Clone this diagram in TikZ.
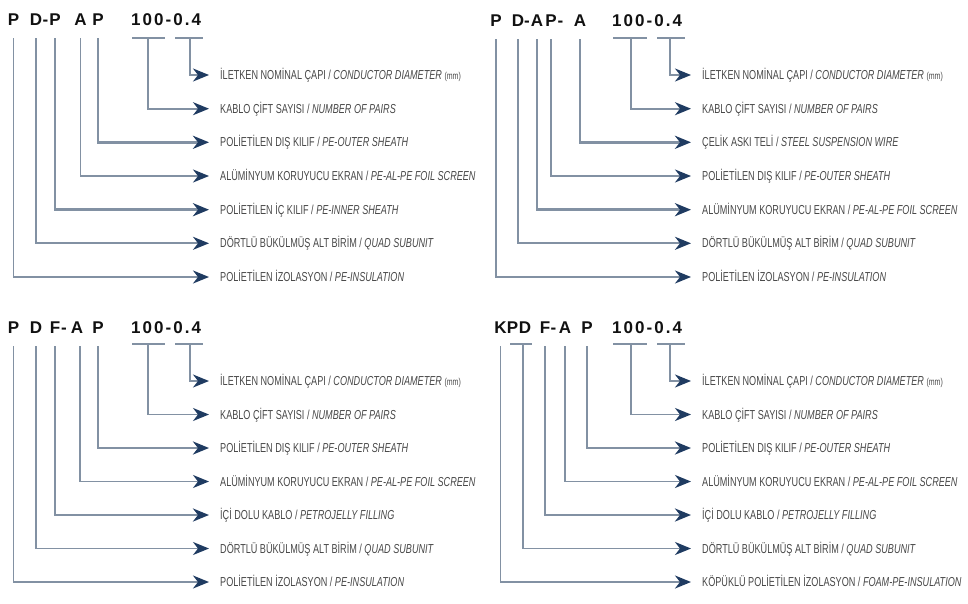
\documentclass[tikz,border=0pt]{standalone}
\usepackage{fontspec}
\setmainfont{Liberation Sans}
\newfontfamily\lblfont[FakeStretch=0.7]{Liberation Sans}
\newfontfamily\codefont{Liberation Sans}
\newfontfamily\numfont[LetterSpace=12]{Liberation Sans}
\usetikzlibrary{arrows.meta}

\definecolor{wire}{HTML}{8291A3}
\definecolor{tipblue}{HTML}{1F3B61}
\definecolor{lbltext}{HTML}{484848}
\definecolor{codetext}{HTML}{111111}

\tikzset{
  code/.style={anchor=base, inner sep=0pt, text=codetext,
    font=\codefont\bfseries\fontsize{17}{17}\selectfont},
  num/.style={anchor=base west, inner sep=0pt, text=codetext,
    font=\numfont\bfseries\fontsize{17}{17}\selectfont},
  lbl/.style={anchor=west, inner sep=0pt, text height=9pt, text depth=0pt,
    text=lbltext, font=\lblfont\fontsize{13}{13}\selectfont},
  wire/.style={draw=wire, line width=1.8pt, shorten <=13pt, shorten >=11pt,
    -{Stealth[length=16pt, width=13pt, inset=5pt, color=tipblue]}},
  fromline/.style={shorten <=0pt},
  heavy/.style={line width=2.7pt},
  uline/.style={draw=wire, line width=1.5pt},
}
\newcommand{\en}[1]{\textit{#1}}
\newcommand{\mm}{{\fontsize{10}{10}\selectfont(mm)}}

\begin{document}
\begin{tikzpicture}[x=1pt,y=-1pt]
\useasboundingbox (0,0) rectangle (968,603);
\fill[white] (0,0) rectangle (968,603);

% ================= P D-P A P 100-0.4 =================
\node[code] (aP1) at (13.5,25) {P};
\node[code] (aD)  at (36,25)   {D};
\node[code] (aH)  at (45.5,25) {-};
\node[code] (aP2) at (55,25)   {P};
\node[code] (aA)  at (80.5,25) {A};
\node[code] (aP3) at (98,25)   {P};
\node[num]  (aN)  at (131,25)  {100-0.4};
\coordinate (aU1a) at (132,38);  \coordinate (aU1b) at (165,38);  \coordinate (aU1) at (148,38);
\coordinate (aU2a) at (175,38);  \coordinate (aU2b) at (203,38);  \coordinate (aU2) at (190,38);
\draw[uline] (aU1a) -- (aU1b);
\draw[uline] (aU2a) -- (aU2b);

\node[lbl] (a1) at (220,75)    {İLETKEN NOMİNAL ÇAPI / \en{CONDUCTOR DIAMETER} \mm};
\node[lbl] (a2) at (220,108.7) {KABLO ÇİFT SAYISI / \en{NUMBER OF PAIRS}};
\node[lbl] (a3) at (220,142.3) {POLİETİLEN DIŞ KILIF / \en{PE-OUTER SHEATH}};
\node[lbl] (a4) at (220,176)   {ALÜMİNYUM KORUYUCU EKRAN / \en{PE-AL-PE FOIL SCREEN}};
\node[lbl] (a5) at (220,209.7) {POLİETİLEN İÇ KILIF / \en{PE-INNER SHEATH}};
\node[lbl] (a6) at (220,243.3) {DÖRTLÜ BÜKÜLMÜŞ ALT BİRİM / \en{QUAD SUBUNIT}};
\node[lbl] (a7) at (220,277)   {POLİETİLEN İZOLASYON / \en{PE-INSULATION}};

\draw[wire, fromline] (aU2) |- (a1.west);
\draw[wire, fromline] (aU1) |- (a2.west);
\draw[wire, heavy] (aP3.base) |- (a3.west);
\draw[wire] (aA.base)  |- (a4.west);
\draw[wire, heavy] (aP2.base) |- (a5.west);
\draw[wire] (aD.base)  |- (a6.west);
\draw[wire] (aP1.base) |- (a7.west);

% ================= P D-AP- A 100-0.4 =================
\node[code] (bP1) at (496,26)   {P};
\node[code] (bD)  at (518,26)   {D};
\node[code] (bH1) at (527,26)   {-};
\node[code] (bA1) at (537,26)   {A};
\node[code] (bP2) at (551,26)   {P};
\node[code] (bH2) at (560.5,26) {-};
\node[code] (bA2) at (580,26)   {A};
\node[num]  (bN)  at (612,26)   {100-0.4};
\coordinate (bU1a) at (613,38);  \coordinate (bU1b) at (647,38);  \coordinate (bU1) at (631,38);
\coordinate (bU2a) at (657,38);  \coordinate (bU2b) at (685,38);  \coordinate (bU2) at (670,38);
\draw[uline] (bU1a) -- (bU1b);
\draw[uline] (bU2a) -- (bU2b);

\node[lbl] (b1) at (702,75)    {İLETKEN NOMİNAL ÇAPI / \en{CONDUCTOR DIAMETER} \mm};
\node[lbl] (b2) at (702,108.7) {KABLO ÇİFT SAYISI / \en{NUMBER OF PAIRS}};
\node[lbl] (b3) at (702,142.3) {ÇELİK ASKI TELİ / \en{STEEL SUSPENSION WIRE}};
\node[lbl] (b4) at (702,176)   {POLİETİLEN DIŞ KILIF / \en{PE-OUTER SHEATH}};
\node[lbl] (b5) at (702,209.7) {ALÜMİNYUM KORUYUCU EKRAN / \en{PE-AL-PE FOIL SCREEN}};
\node[lbl] (b6) at (702,243.3) {DÖRTLÜ BÜKÜLMÜŞ ALT BİRİM / \en{QUAD SUBUNIT}};
\node[lbl] (b7) at (702,277)   {POLİETİLEN İZOLASYON / \en{PE-INSULATION}};

\draw[wire, fromline] (bU2) |- (b1.west);
\draw[wire, fromline] (bU1) |- (b2.west);
\draw[wire, heavy] (bA2.base) |- (b3.west);
\draw[wire] (bP2.base) |- (b4.west);
\draw[wire, heavy] (bA1.base) |- (b5.west);
\draw[wire] (bD.base)  |- (b6.west);
\draw[wire] (bP1.base) |- (b7.west);

% ================= P D F-A P 100-0.4 =================
\node[code] (cP1) at (13.5,333) {P};
\node[code] (cD)  at (36,333)   {D};
\node[code] (cF)  at (55,333)   {F};
\node[code] (cH)  at (64,333)   {-};
\node[code] (cA)  at (77,333)   {A};
\node[code] (cP2) at (98,333)   {P};
\node[num]  (cN)  at (131,333)  {100-0.4};
\coordinate (cU1a) at (132,344);  \coordinate (cU1b) at (165,344);  \coordinate (cU1) at (148,344);
\coordinate (cU2a) at (175,344);  \coordinate (cU2b) at (203,344);  \coordinate (cU2) at (190,344);
\draw[uline] (cU1a) -- (cU1b);
\draw[uline] (cU2a) -- (cU2b);

\node[lbl] (c1) at (220,381)   {İLETKEN NOMİNAL ÇAPI / \en{CONDUCTOR DIAMETER} \mm};
\node[lbl] (c2) at (220,414.5) {KABLO ÇİFT SAYISI / \en{NUMBER OF PAIRS}};
\node[lbl] (c3) at (220,448)   {POLİETİLEN DIŞ KILIF / \en{PE-OUTER SHEATH}};
\node[lbl] (c4) at (220,481.5) {ALÜMİNYUM KORUYUCU EKRAN / \en{PE-AL-PE FOIL SCREEN}};
\node[lbl] (c5) at (220,515)   {İÇİ DOLU KABLO / \en{PETROJELLY FILLING}};
\node[lbl] (c6) at (220,548.5) {DÖRTLÜ BÜKÜLMÜŞ ALT BİRİM / \en{QUAD SUBUNIT}};
\node[lbl] (c7) at (220,582)   {POLİETİLEN İZOLASYON / \en{PE-INSULATION}};

\draw[wire, fromline] (cU2) |- (c1.west);
\draw[wire, fromline] (cU1) |- (c2.west);
\draw[wire, heavy] (cP2.base) |- (c3.west);
\draw[wire] ([xshift=3pt]cA.base) |- (c4.west);
\draw[wire, heavy] (cF.base) |- (c5.west);
\draw[wire] (cD.base)  |- (c6.west);
\draw[wire] (cP1.base) |- (c7.west);

% ================= KPD F-A P 100-0.4 =================
\node[code] (dK)  at (500.5,333) {K};
\node[code] (dP1) at (512.5,333) {P};
\node[code] (dD)  at (525,333)   {D};
\node[code] (dF)  at (545,333)   {F};
\node[code] (dH)  at (553.5,333) {-};
\node[code] (dA)  at (565,333)   {A};
\node[code] (dP2) at (587,333)   {P};
\node[num]  (dN)  at (612,333)   {100-0.4};
\coordinate (dUPa) at (510,344);  \coordinate (dUPb) at (532,344);  \coordinate (dUP) at (523,344);
\coordinate (dU1a) at (613,344);  \coordinate (dU1b) at (647,344);  \coordinate (dU1) at (631,344);
\coordinate (dU2a) at (657,344);  \coordinate (dU2b) at (685,344);  \coordinate (dU2) at (670,344);
\draw[uline] (dUPa) -- (dUPb);
\draw[uline] (dU1a) -- (dU1b);
\draw[uline] (dU2a) -- (dU2b);

\node[lbl] (d1) at (702,381)   {İLETKEN NOMİNAL ÇAPI / \en{CONDUCTOR DIAMETER} \mm};
\node[lbl] (d2) at (702,414.5) {KABLO ÇİFT SAYISI / \en{NUMBER OF PAIRS}};
\node[lbl] (d3) at (702,448)   {POLİETİLEN DIŞ KILIF / \en{PE-OUTER SHEATH}};
\node[lbl] (d4) at (702,481.5) {ALÜMİNYUM KORUYUCU EKRAN / \en{PE-AL-PE FOIL SCREEN}};
\node[lbl] (d5) at (702,515)   {İÇİ DOLU KABLO / \en{PETROJELLY FILLING}};
\node[lbl] (d6) at (702,548.5) {DÖRTLÜ BÜKÜLMÜŞ ALT BİRİM / \en{QUAD SUBUNIT}};
\node[lbl] (d7) at (702,582)   {KÖPÜKLÜ POLİETİLEN İZOLASYON / \en{FOAM-PE-INSULATION}};

\draw[wire, fromline] (dU2) |- (d1.west);
\draw[wire, fromline] (dU1) |- (d2.west);
\draw[wire, heavy] (dP2.base) |- (d3.west);
\draw[wire] (dA.base)  |- (d4.west);
\draw[wire, heavy] (dF.base) |- (d5.west);
\draw[wire, fromline] (dUP) |- (d6.west);
\draw[wire] (dK.base)  |- (d7.west);

\end{tikzpicture}
\end{document}
